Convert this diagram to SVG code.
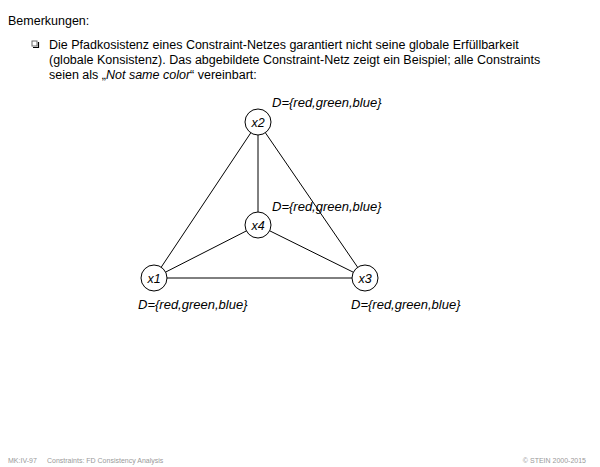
<svg xmlns="http://www.w3.org/2000/svg" width="600" height="467" viewBox="0 0 600 467">
<style>
text{font-family:"Liberation Sans",Arial,sans-serif;fill:#000}
.body{font-size:12.5px}
.lab{font-size:13px;font-style:italic}
.node circle{fill:#fff;stroke:#000;stroke-width:1}
.node text{font-size:12.5px;font-style:italic;text-anchor:middle}
.edges line{stroke:#000;stroke-width:1}
.foot{font-size:7px;fill:#999}
</style>
<rect width="600" height="467" fill="#fff"/>
<text class="body" x="8" y="25">Bemerkungen:</text>
<rect x="32" y="41" width="5" height="5" fill="none" stroke="#666" stroke-width="1"/>
<path d="M33 47.5H38.5V42" fill="none" stroke="#000" stroke-width="1.2"/>
<text class="body" x="49" y="48.5">Die Pfadkosistenz eines Constraint-Netzes garantiert nicht seine globale Erfüllbarkeit</text>
<text class="body" x="49" y="63.5">(globale Konsistenz). Das abgebildete Constraint-Netz zeigt ein Beispiel; alle Constraints</text>
<text class="body" x="49" y="78.5">seien als „<tspan font-style="italic">Not same color</tspan>“ vereinbart:</text>
<g class="edges">
<line x1="258" y1="122" x2="154" y2="278"/>
<line x1="258" y1="122" x2="365" y2="278"/>
<line x1="258" y1="122" x2="258" y2="225"/>
<line x1="154" y1="278" x2="365" y2="278"/>
<line x1="154" y1="278" x2="258" y2="225"/>
<line x1="365" y1="278" x2="258" y2="225"/>
</g>
<g id="x2" class="node"><circle cx="258" cy="122" r="13"/><text x="258" y="126.5">x2</text></g>
<g id="x4" class="node"><circle cx="258" cy="225" r="13"/><text x="258" y="229.5">x4</text></g>
<g id="x1" class="node"><circle cx="154" cy="278" r="13"/><text x="154" y="282.5">x1</text></g>
<g id="x3" class="node"><circle cx="365" cy="278" r="13"/><text x="365" y="282.5">x3</text></g>
<text class="lab" x="272" y="107">D={red,green,blue}</text>
<text class="lab" x="272" y="211">D={red,green,blue}</text>
<text class="lab" x="138" y="309">D={red,green,blue}</text>
<text class="lab" x="351" y="309">D={red,green,blue}</text>
<text class="foot" x="8" y="463">MK:IV-97</text>
<text class="foot" x="47" y="463">Constraints: FD Consistency Analysis</text>
<text class="foot" x="586" y="463" text-anchor="end">© STEIN 2000-2015</text>
</svg>
